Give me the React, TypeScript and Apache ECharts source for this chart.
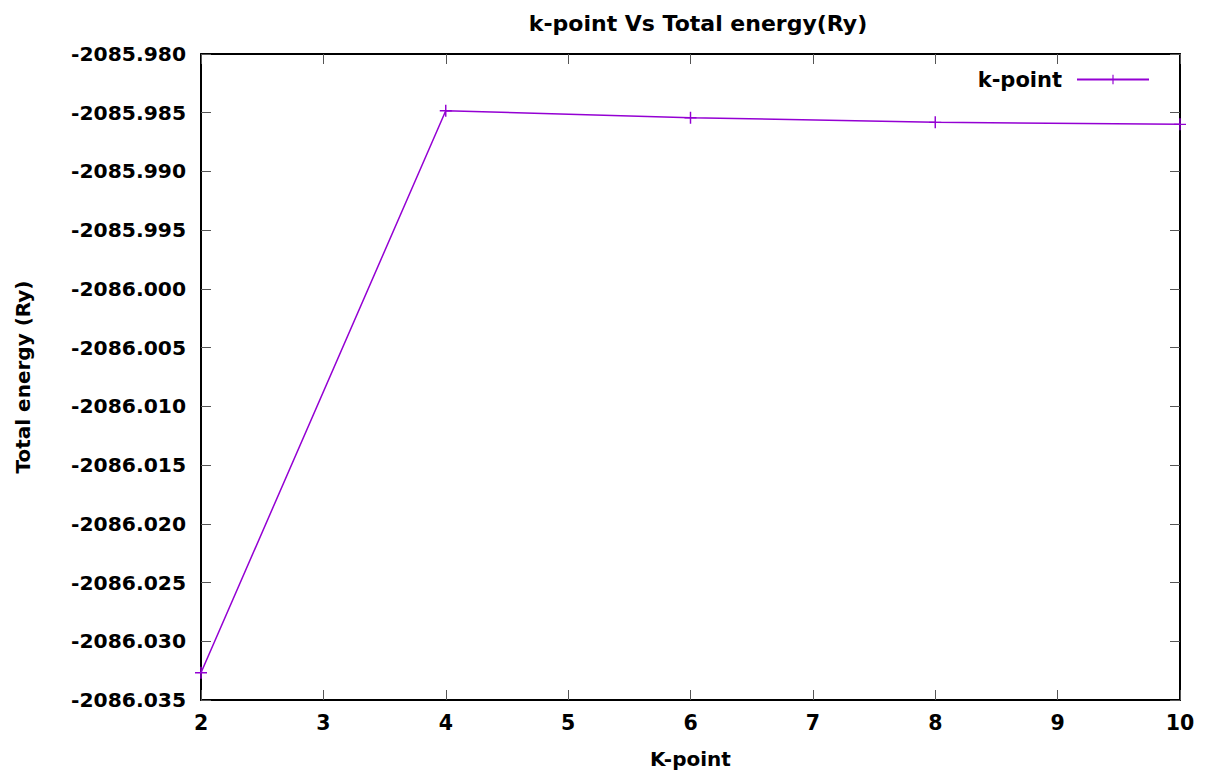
import React, { useEffect, useRef } from "react";
import * as echarts from "echarts";

const kPoints: number[] = [2, 4, 6, 8, 10];
const totalEnergy: number[] = [-2086.03268, -2085.98483, -2085.98542, -2085.98582, -2085.98599];
const seriesName = "k-point";
const titleText = "k-point Vs Total energy(Ry)";
const xAxisName = "K-point";
const yAxisName = "Total energy (Ry)";
const yMin = -2086.035;
const yMax = -2085.98;
const yStep = 0.005;
const xMin = 2;
const xMax = 10;
const xStep = 1;

const FONT = "DejaVu Sans";
const PURPLE = "#9400d3";

export default function App() {
  const ref = useRef<HTMLDivElement>(null);
  useEffect(() => {
    document.body.style.margin = "0";
    if (!ref.current) return;
    const chart = echarts.init(ref.current, null, { renderer: "svg" });
    const data = kPoints.map((k, i) => [k, totalEnergy[i]]);
    const axisLine = { show: true, lineStyle: { color: "#000", width: 2 } };
    const axisTick = { show: true, inside: true, length: 10, lineStyle: { color: "#555", width: 1 } };
    chart.setOption({
      animation: false,
      backgroundColor: "#fff",
      title: {
        text: titleText,
        left: 693,
        textAlign: "center",
        top: 7,
        textStyle: { fontFamily: FONT, fontWeight: "bold", fontSize: 22, color: "#000" },
      },
      legend: {
        data: [seriesName],
        right: 51,
        top: 64,
        align: "right",
        itemWidth: 72,
        itemHeight: 12,
        textStyle: { fontFamily: FONT, fontWeight: "bold", fontSize: 21, color: "#000", padding: [0, 10, 0, 0] },
      },
      grid: { left: 201, right: 26, top: 54, bottom: 76, containLabel: false, outerBoundsMode: "none" },
      xAxis: [
        {
          type: "value",
          min: xMin,
          max: xMax,
          interval: xStep,
          name: xAxisName,
          nameLocation: "middle",
          nameGap: 49,
          nameTextStyle: { fontFamily: FONT, fontWeight: "bold", fontSize: 20, color: "#000" },
          axisLine,
          axisTick,
          splitLine: { show: false },
          axisLabel: { fontFamily: FONT, fontWeight: "bold", fontSize: 20.5, color: "#000", margin: 12 },
        },
        {
          type: "value",
          position: "top",
          min: xMin,
          max: xMax,
          interval: xStep,
          axisLine,
          axisTick,
          splitLine: { show: false },
          axisLabel: { show: false },
        },
      ],
      yAxis: [
        {
          type: "value",
          min: yMin,
          max: yMax,
          interval: yStep,
          name: yAxisName,
          nameLocation: "middle",
          nameGap: 168,
          nameRotate: 90,
          nameTextStyle: { fontFamily: FONT, fontWeight: "bold", fontSize: 20, color: "#000" },
          axisLine,
          axisTick,
          splitLine: { show: false },
          axisLabel: {
            fontFamily: FONT,
            fontWeight: "bold",
            fontSize: 20.3,
            color: "#000",
            margin: 15,
            formatter: (v: number) => v.toFixed(3),
          },
        },
        {
          type: "value",
          position: "right",
          min: yMin,
          max: yMax,
          interval: yStep,
          axisLine,
          axisTick,
          splitLine: { show: false },
          axisLabel: { show: false },
        },
      ],
      series: [
        {
          name: seriesName,
          type: "line",
          data,
          xAxisIndex: 0,
          yAxisIndex: 0,
          symbol: "path://M0,4.4H10V5.6H0Z M4.4,0H5.6V10H4.4Z",
          symbolSize: 12,
          showSymbol: true,
          lineStyle: { color: PURPLE, width: 1.5 },
          itemStyle: { color: PURPLE },
          clip: false,
        },
      ],
    });
    return () => chart.dispose();
  }, []);
  return <div ref={ref} style={{ width: 1206, height: 776 }} />;
}
